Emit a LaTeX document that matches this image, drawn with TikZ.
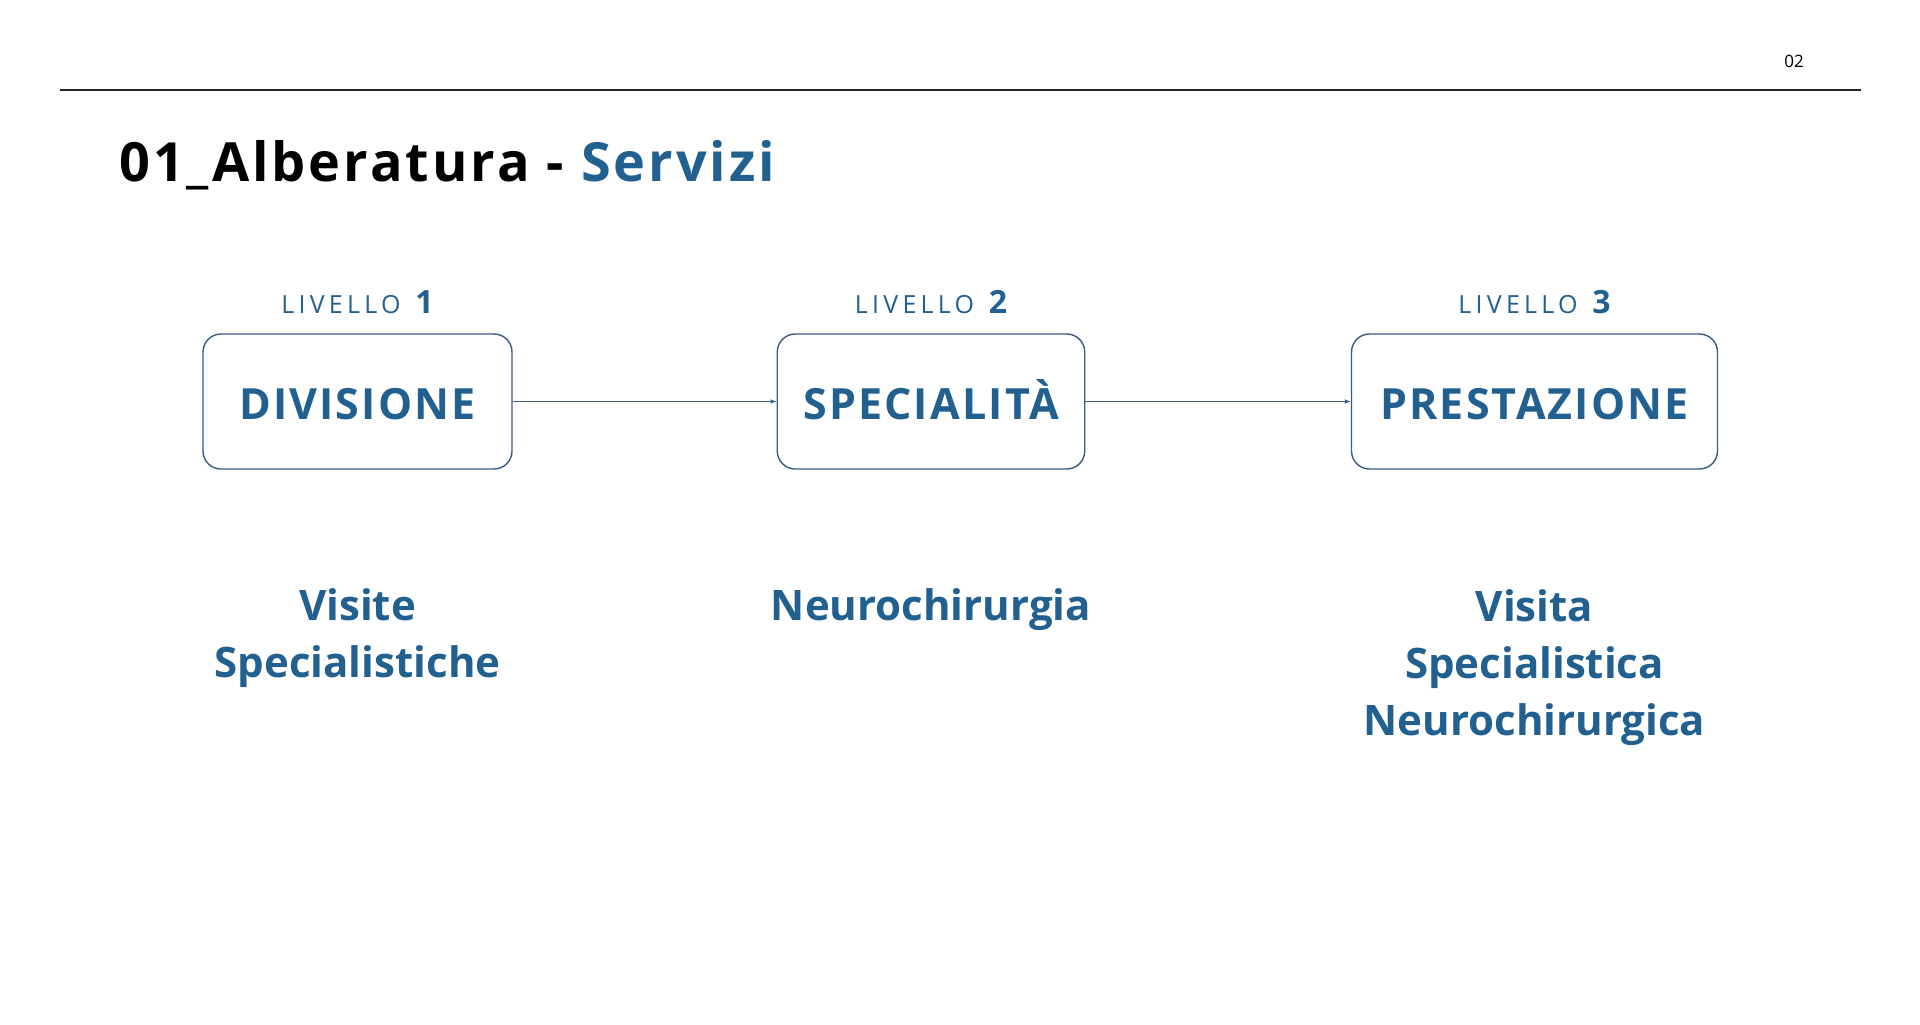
\documentclass[tikz,border=0pt]{standalone}
\usepackage{fontspec}
\setmainfont{Open Sans}
\newfontfamily\titlefont[LetterSpace=5.5]{Open Sans}
\newfontfamily\levelfont[LetterSpace=17]{Open Sans}
\newfontfamily\stagefont[LetterSpace=5]{Open Sans}
\usetikzlibrary{arrows.meta}

\definecolor{servblue}{HTML}{22608F}
\definecolor{boxline}{HTML}{3B5B86}

\tikzstyle{level} = [font=\levelfont\fontsize{12.5}{15}\selectfont, text=servblue, anchor=base, inner sep=0pt]
\tikzstyle{stage} = [draw=boxline, line width=0.7pt, rounded corners=9pt, minimum height=67.5pt,
    text=servblue, font=\stagefont\bfseries\fontsize{21.5}{25}\selectfont, text height=17.5pt, text depth=0pt]
\tikzstyle{link} = [draw=boxline, line width=0.7pt, -{Latex[length=3pt,width=2.4pt]}]
\tikzstyle{item} = [font=\bfseries\fontsize{21}{28.5}\selectfont, text=servblue, align=center, anchor=base, inner sep=0pt]

\begin{document}
\begin{tikzpicture}[x=0.5pt, y=-0.5pt]
    \fill[white] (0,0) rectangle (1920,1024);
    \useasboundingbox (0,0) rectangle (1920,1024);
    % Header: page number, rule and title
    \node[font=\fontsize{8.5}{10}\selectfont, inner sep=0pt] (page) at (1794,61) {02};
    \coordinate (ruleL) at (60,90);
    \coordinate (ruleR) at (1861,90);
    \draw[line width=0.75pt, black!85] (ruleL) -- (ruleR);
    \node[font=\titlefont\bfseries\fontsize{27}{32}\selectfont, anchor=base west, inner sep=0pt] (title)
        at (119,181) {01\_Alberatura - \textcolor{servblue}{Servizi}};
    % First we draw the three level boxes with their labels
    \foreach \x/\name/\boxw/\lvl/\txt in {357.5/div/154.5pt/1/DIVISIONE, 931/spec/153.75pt/2/SPECIALITÀ, 1534.5/prest/183pt/3/PRESTAZIONE}
    {
        \node[level] (\name-lvl) at (\x,313) {LIVELLO\hspace{2pt} {\bfseries\fontsize{16}{16}\selectfont\lvl}};
        \node[stage, minimum width=\boxw] (\name) at (\x,401.5) {\txt};
    }
    % Connect boxes with arrows
    \foreach \source/\dest in {div/spec, spec/prest}
        \path[link] (\source) -- (\dest);
    % Examples under each level (anchored on the last line)
    \node[item] (div-ex) at (357.5,677) {Visite\\Specialistiche};
    \node[item] (spec-ex) at (931,620) {Neurochirurgia};
    \node[item] (prest-ex) at (1534.5,735) {Visita\\Specialistica\\Neurochirurgica};
\end{tikzpicture}
\end{document}
